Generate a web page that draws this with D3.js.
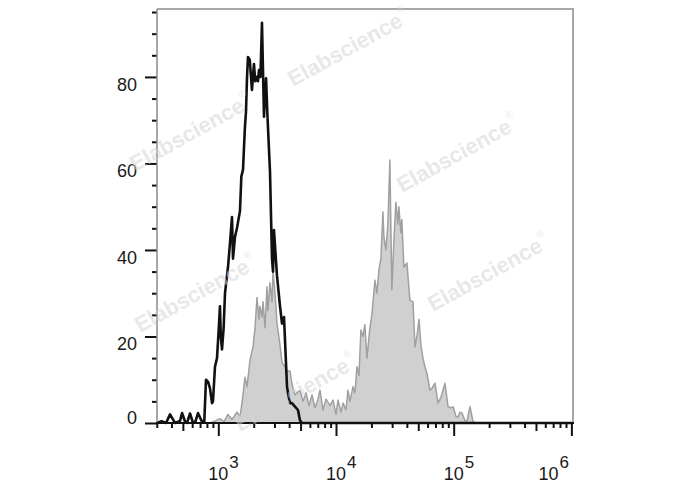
<!DOCTYPE html>
<html>
<head>
<meta charset="utf-8">
<script src="https://cdn.jsdelivr.net/npm/d3@7"></script>
<style>
  html, body { margin: 0; padding: 0; background: #fff; }
  svg { display: block; }
</style>
</head>
<body>
<svg id="chart" width="688" height="490"></svg>
<script>
// ---------- data ----------
const yMajorTicks = [0, 20, 40, 60, 80];
const yMinorTicks = [5, 10, 15, 25, 30, 35, 45, 50, 55, 65, 70, 75, 85, 90, 95];
const xMajorTicks = [1e3, 1e4, 1e5, 1e6];
const xTickExponents = ["3", "4", "5", "6"];
const xMidTicks = [500, 5000, 50000, 500000];
const xMinorTicks = [300, 400, 600, 700, 800, 900,
  2000, 3000, 4000, 6000, 7000, 8000, 9000,
  20000, 30000, 40000, 60000, 70000, 80000, 90000,
  200000, 300000, 400000, 600000, 700000, 800000, 900000];

// unstained control (black outline histogram)
const controlIntensity = [300, 330, 360, 389, 429, 473, 492, 522, 542, 575, 610, 640, 672, 720, 760,
  786, 820, 850, 884, 901, 937, 975, 1010, 1033, 1050, 1075, 1110, 1140, 1209, 1260,
  1307, 1333, 1386, 1440, 1528, 1570, 1621, 1680, 1719, 1754, 1787, 1850, 1932, 2009,
  2060, 2131, 2173, 2216, 2280, 2350, 2444, 2545, 2618, 2750, 2859, 2917, 2972, 3153,
  3344, 3477, 3616, 3835, 3909, 4064, 4226, 4482, 4753, 4942, 5140, 1030000];
const controlCount = [0, 0.4, 0, 2, 0, 0.5, 2.3, 0.3, 0, 2.2, 0, 0.4, 2.3, 0.5, 0.3,
  10, 9.5, 8, 4.6, 5, 13, 15, 22, 27, 20, 17, 22, 30, 36, 42,
  47.6, 38, 43, 45, 49, 57, 58.5, 68, 72, 80, 84.6, 84, 77, 83,
  79, 80, 79, 81.6, 80, 92.5, 70.8, 79.7, 70.8, 58, 38, 35, 44.6, 34,
  27, 23, 24.5, 8.4, 7, 4.6, 4.6, 3.8, 3, 0.6, 0, 0];

// stained sample (grey filled histogram)
const sampleIntensity = [850, 937, 1033, 1118, 1209, 1307, 1440, 1528, 1590, 1687, 1754, 1858, 1972,
  2051, 2131, 2216, 2259, 2350, 2400, 2494, 2592, 2643, 2748, 2859, 2917, 3034, 3153,
  3344, 3477, 3689, 3835, 4064, 4226, 4482, 4667, 4942, 5249, 5561, 5898, 6252, 6631,
  7031, 7311, 7755, 8225, 8892, 9431, 10003, 10400, 11030, 11470, 12160, 12640, 13140,
  13940, 14490, 15070, 15670, 16290, 16940, 17610, 18310, 19420, 20190, 21420, 22270,
  23160, 24080, 25040, 25530, 26540, 27600, 28700, 29270, 29840, 31030, 32270, 33550,
  34210, 35570, 36270, 37720, 40080, 41670, 42490, 45090, 46880, 48750, 50690, 52710,
  54810, 56990, 59260, 62860, 65360, 69340, 73560, 78030, 84340, 89470, 94910, 98680,
  104700, 108800, 113100, 117600, 124700, 129700, 137600, 145900, 154700];
const sampleCount = [0, 0.5, 1, 0.3, 2, 0.8, 2.5, 1.5, 4.6, 10.6, 8.4, 14.5, 17.6,
  22, 29, 24, 27, 24.5, 28, 22, 31.5, 26, 32.4, 28, 35, 30, 23,
  18, 14, 13, 12, 12, 9, 6.5, 7, 7.5, 5, 7, 4, 6.5, 3.5,
  5.5, 7.6, 3, 5.5, 4, 5.3, 2, 5.3, 2.5, 4.6, 3, 7.6, 5,
  8.4, 7, 13, 11, 21.5, 20, 22.7, 15, 22, 25, 33, 30,
  35.4, 38, 48.8, 43, 40, 46, 60.8, 45, 30.8, 42, 51, 46,
  50, 44, 47, 36, 37, 31, 28.4, 28, 17.6, 20, 24, 18,
  15, 13, 11.5, 7.6, 8, 9.2, 4.6, 6, 9.2, 3.8, 3.5, 3.8,
  1.5, 1.4, 2.5, 2.3, 0.5, 0.5, 3.8, 0.3, 0];

const watermarkText = "Elabscience";
const watermarkMark = "®";

// ---------- layout ----------
const plot = { left: 157, right: 573, top: 9, bottom: 423 };
const font = "'Liberation Sans', Arial, sans-serif";

const svg = d3.select("#chart");

const x = d3.scaleLog()
  .domain([301.4, 1.032e6])
  .range([plot.left, plot.right]);
const y = d3.scaleLinear()
  .domain([0, 95.7])
  .range([plot.bottom, plot.top]);

const control = controlIntensity.map((v, i) => ({ v, c: controlCount[i] }));
const sample = sampleIntensity.map((v, i) => ({ v, c: sampleCount[i] }));

// grey filled sample
svg.append("path")
  .datum(sample)
  .attr("d", d3.area().x(d => x(d.v)).y0(y(0)).y1(d => y(d.c)))
  .attr("fill", "#d0d0d0")
  .attr("stroke", "#a0a0a0")
  .attr("stroke-width", 1.5)
  .attr("stroke-linejoin", "round");

// black control line
svg.append("path")
  .datum(control)
  .attr("d", d3.line().x(d => x(d.v)).y(d => y(d.c)))
  .attr("fill", "none")
  .attr("stroke", "#111")
  .attr("stroke-width", 2.6)
  .attr("stroke-linejoin", "round");

// frame top / right
svg.append("path")
  .attr("d", `M${plot.left},${plot.top}H${plot.right}V${plot.bottom}`)
  .attr("fill", "none")
  .attr("stroke", "#a8a8a8")
  .attr("stroke-width", 2);

// left axis
const gy = svg.append("g").attr("transform", `translate(${plot.left},0)`);
gy.call(d3.axisLeft(y).tickValues(yMinorTicks).tickSize(5).tickFormat(""));
gy.call(g => g.select(".domain").remove());
const gyMajor = svg.append("g").attr("transform", `translate(${plot.left},0)`)
  .call(d3.axisLeft(y).tickValues(yMajorTicks).tickSize(12).tickPadding(8).tickFormat(d3.format("d")));
gyMajor.select(".domain").remove();
gyMajor.selectAll("text")
  .attr("font-family", font)
  .attr("font-size", 18)
  .attr("fill", "#1a1a1a")
  .attr("dy", d => d === 0 ? "0.0em" : "0.75em");
svg.selectAll("g line").attr("stroke", "#111").attr("stroke-width", 2);
svg.append("line")
  .attr("x1", plot.left).attr("x2", plot.left)
  .attr("y1", plot.top).attr("y2", plot.bottom)
  .attr("stroke", "#8a8a8a").attr("stroke-width", 1.5);

// bottom axis
const gx = svg.append("g").attr("transform", `translate(0,${plot.bottom})`);
gx.append("g").call(d3.axisBottom(x).tickValues(xMinorTicks).tickSize(5).tickFormat(""));
gx.append("g").call(d3.axisBottom(x).tickValues(xMidTicks).tickSize(8).tickFormat(""));
gx.append("g").call(d3.axisBottom(x).tickValues(xMajorTicks).tickSize(13).tickFormat(""));
gx.selectAll(".domain").remove();
gx.selectAll("line").attr("stroke", "#111").attr("stroke-width", 2);
gx.append("line")
  .attr("x1", plot.left - 1).attr("x2", plot.right + 1)
  .attr("y1", 0).attr("y2", 0)
  .attr("stroke", "#111").attr("stroke-width", 2.2);

const labels = svg.append("g")
  .attr("font-family", font)
  .attr("fill", "#1a1a1a");
xMajorTicks.forEach((v, i) => {
  const last = i === xMajorTicks.length - 1;
  const t = labels.append("text")
    .attr("x", x(v) - (last ? 33 : 10))
    .attr("y", 480)
    .attr("font-size", 18);
  t.append("tspan").text("10");
  t.append("tspan").attr("dy", -12).attr("dx", 1).attr("font-size", 17).text(xTickExponents[i]);
});

// watermarks
const marks = [[293, 87], [135, 172], [402, 193], [140, 333], [433, 312], [240, 432]];
const wm = svg.append("g")
  .attr("font-family", font)
  .attr("font-weight", "bold")
  .attr("font-size", 22)
  .attr("fill", "#d4d4d4")
  .attr("fill-opacity", 0.55);
marks.forEach(([mx, my]) => {
  const t = wm.append("text")
    .attr("transform", `translate(${mx},${my}) rotate(-29)`);
  t.append("tspan").text(watermarkText);
  t.append("tspan").attr("dy", -13).attr("dx", 1).attr("font-size", 10).attr("font-weight", "normal").text(watermarkMark);
});
</script>
</body>
</html>
